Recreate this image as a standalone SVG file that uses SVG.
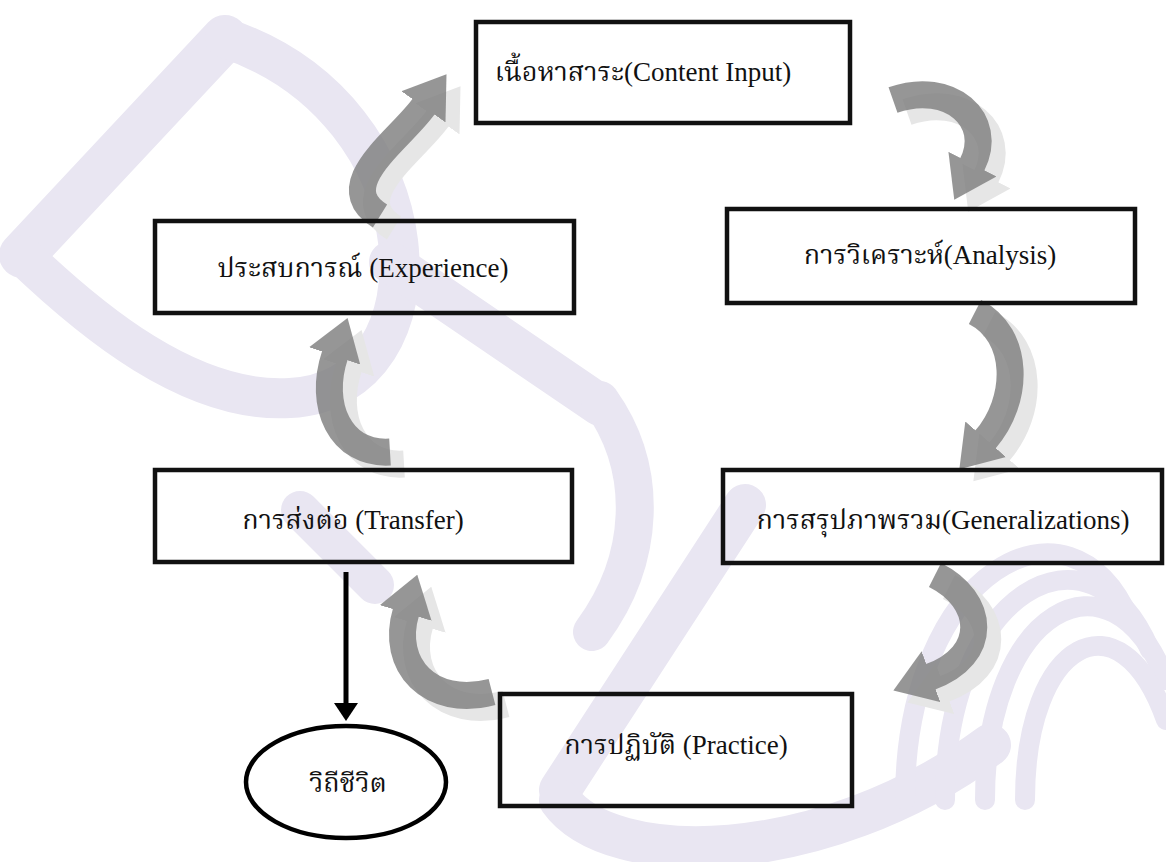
<svg xmlns="http://www.w3.org/2000/svg" width="1166" height="862" viewBox="0 0 1166 862">
<defs>
<style>
.wm{fill:none;stroke:#e9e6f2;stroke-linecap:round}
.box{fill:none;stroke:#111;stroke-width:4.5}
.t{font-family:"Liberation Serif","Noto Serif Thai","Noto Sans Thai","DejaVu Serif",serif;font-size:27px;fill:#111;text-anchor:middle}
.arr{fill:none;stroke:#808080;stroke-width:27;opacity:.82}
.sh{fill:none;stroke:#e6e6e6;stroke-width:27}
</style>
<marker id="hd" markerUnits="userSpaceOnUse" viewBox="0 0 40 54" markerWidth="40" markerHeight="54" refX="1" refY="27" orient="auto"><path d="M0,0 L40,27 L0,54 Z" fill="#808080"/></marker>
<marker id="hs" markerUnits="userSpaceOnUse" viewBox="0 0 40 54" markerWidth="40" markerHeight="54" refX="1" refY="27" orient="auto"><path d="M0,0 L40,27 L0,54 Z" fill="#e6e6e6"/></marker>
<marker id="ah" markerUnits="userSpaceOnUse" viewBox="0 0 18 24" markerWidth="18" markerHeight="24" refX="0" refY="12" orient="auto"><path d="M0,0 L18,12 L0,24 Z" fill="#000"/></marker>
</defs>
<rect width="1166" height="862" fill="#fff"/>
<g id="watermark">
<path class="wm" stroke-width="46" d="M225,38 L22,255"/>
<path class="wm" stroke-width="40" d="M225,38 C440,110 450,390 290,398 C190,404 90,320 22,255"/>
<path class="wm" stroke-width="42" d="M390,262 L600,405"/>
<path class="wm" stroke-width="38" d="M600,400 C650,470 645,560 592,632"/>
<path class="wm" stroke-width="38" d="M300,510 L375,585"/>
<path class="wm" stroke-width="42" d="M745,505 L560,790"/>
<path class="wm" stroke-width="42" d="M560,800 C610,870 820,870 990,745"/>
<path class="wm" stroke-width="20" d="M905,800 C905,570 1070,480 1130,620"/>
<path class="wm" stroke-width="20" d="M945,800 C945,590 1090,510 1150,650"/>
<path class="wm" stroke-width="20" d="M985,800 C985,610 1110,540 1166,680"/>
<path class="wm" stroke-width="20" d="M1025,800 C1025,640 1120,590 1166,720"/>
</g>
<g id="connectors">
<g transform="translate(14,12)">
<path class="sh" marker-end="url(#hs)" d="M380,216 C330,185 400,140 424,106"/>
<path class="sh" marker-end="url(#hs)" d="M893,100 C950,80 995,120 972,165"/>
<path class="sh" marker-end="url(#hs)" d="M975,312 C1020,335 1020,400 985,440"/>
<path class="sh" marker-end="url(#hs)" d="M935,575 C985,600 990,655 930,677"/>
<path class="sh" marker-end="url(#hs)" d="M492,692 C430,708 390,665 406,612"/>
<path class="sh" marker-end="url(#hs)" d="M390,452 C340,455 318,405 335,355"/>
</g>
<path class="arr" marker-end="url(#hd)" d="M380,216 C330,185 400,140 424,106"/>
<path class="arr" marker-end="url(#hd)" d="M893,100 C950,80 995,120 972,165"/>
<path class="arr" marker-end="url(#hd)" d="M975,312 C1020,335 1020,400 985,440"/>
<path class="arr" marker-end="url(#hd)" d="M935,575 C985,600 990,655 930,677"/>
<path class="arr" marker-end="url(#hd)" d="M492,692 C430,708 390,665 406,612"/>
<path class="arr" marker-end="url(#hd)" d="M390,452 C340,455 318,405 335,355"/>
<path fill="none" stroke="#000" stroke-width="5" marker-end="url(#ah)" d="M346,572 L346,703"/>
</g>
<g id="n-content"><rect class="box" x="476" y="22" width="374" height="101"/><text class="t" x="643" y="81">เนื้อหาสาระ(Content Input)</text></g>
<g id="n-experience"><rect class="box" x="155" y="221" width="419" height="92"/><text class="t" x="363" y="277">ประสบการณ์ (Experience)</text></g>
<g id="n-analysis"><rect class="box" x="727" y="209" width="408" height="94"/><text class="t" x="930" y="264">การวิเคราะห์(Analysis)</text></g>
<g id="n-transfer"><rect class="box" x="155" y="470" width="417" height="92"/><text class="t" x="353" y="529">การส่งต่อ (Transfer)</text></g>
<g id="n-general"><rect class="box" x="723" y="470" width="439" height="93"/><text class="t" x="943" y="529">การสรุปภาพรวม(Generalizations)</text></g>
<g id="n-practice"><rect class="box" x="500" y="694" width="352" height="112"/><text class="t" x="676" y="754">การปฏิบัติ (Practice)</text></g>
<g id="n-life"><ellipse cx="346" cy="782" rx="100" ry="56" fill="none" stroke="#000" stroke-width="4.5"/><text class="t" x="348" y="792">วิถีชีวิต</text></g>
</svg>
